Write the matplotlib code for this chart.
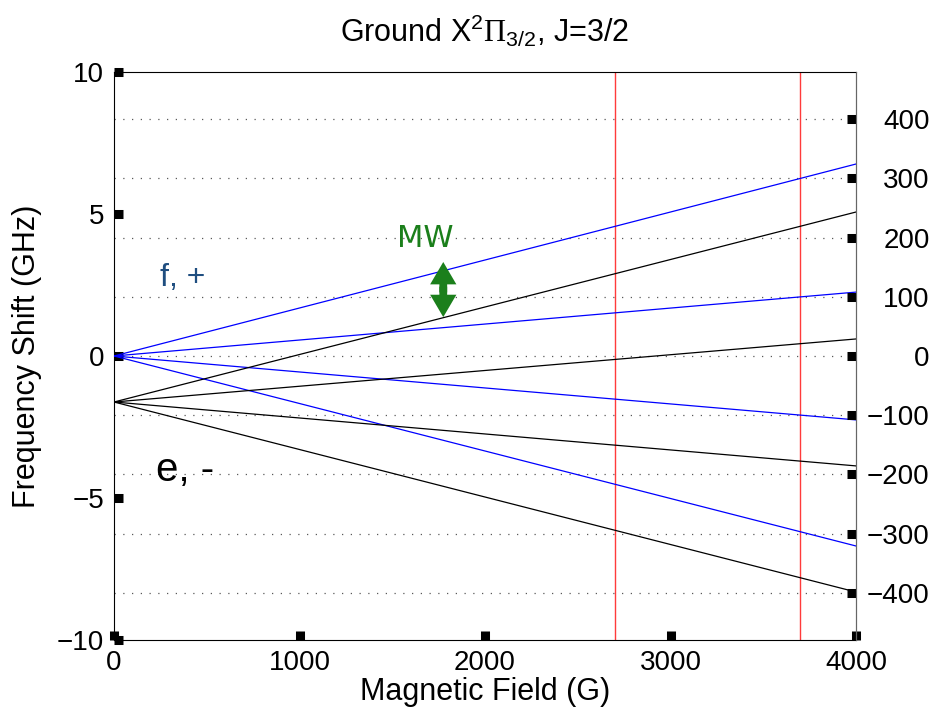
import numpy as np
import matplotlib
matplotlib.use("Agg")
import matplotlib.pyplot as plt
from matplotlib.patches import FancyArrowPatch

plt.rcParams['font.family'] = ['Liberation Sans', 'DejaVu Sans']
plt.rcParams['mathtext.fontset'] = 'custom'
plt.rcParams['mathtext.rm'] = 'Liberation Sans'
plt.rcParams['mathtext.sf'] = 'Liberation Serif'

# Magnetic field end points (G) and level shifts (GHz) at those fields
field = [0, 4000]
f_levels = [[0.0, 6.76], [0.0, 2.25], [0.0, -2.25], [0.0, -6.69]]
e_levels = [[-1.62, 5.07], [-1.62, 0.60], [-1.62, -3.87], [-1.62, -8.31]]

# field values marked by the red lines
markers_G = [2700, 3700]

# microwave transition arrow (G, GHz)
mw_field = 1775
mw_span = [1.37, 3.31]

# right-hand axis in mK (1 GHz ~ 48 mK)
mk_per_ghz = 47.99
mk_ticks = [-400, -300, -200, -100, 0, 100, 200, 300, 400]

fig = plt.figure(figsize=(9.32, 7.15), dpi=100)
ax = fig.add_axes([114/932, 1 - 640/715, 742/932, 568/715])

# dotted guide lines at the mK ticks
for mk in mk_ticks:
    ax.axhline(mk / mk_per_ghz, color='0.35', lw=0.9, ls=(0, (1, 6)), zorder=1)

for lvl in f_levels:
    ax.plot(field, lvl, color='#0000ff', lw=0.9, zorder=3)
for lvl in e_levels:
    ax.plot(field, lvl, color='black', lw=0.9, zorder=3)

for b in markers_G:
    ax.axvline(b, color='#ff3b3b', lw=1.0, zorder=2)

ax.set_xlim(0, 4000)
ax.set_ylim(-10, 10)
ax.set_xticks([0, 1000, 2000, 3000, 4000])
ax.set_yticks([-10, -5, 0, 5, 10])
ax.set_yticklabels(['\u221210', '\u22125', '0', '5', '10'])
ax.tick_params(direction='in', length=6.5, width=6.5, labelsize=20, pad=7,
               top=False, right=False)
ax.set_xlabel('Magnetic Field (G)', fontsize=22, labelpad=1)
ax.set_ylabel('Frequency Shift (GHz)', fontsize=22, labelpad=11)
ax.set_title(r'Ground X$^{2}\mathsf{\Pi}_{3/2}$, J=3/2', fontsize=22, pad=22)
ax.spines['right'].set_color('0.4')

# second scale on the right, in mK
ax2 = ax.twinx()
ax2.set_ylim(-10 * mk_per_ghz, 10 * mk_per_ghz)
ax2.set_yticks(mk_ticks)
ax2.set_yticklabels([('\u2212' if t < 0 else '') + str(abs(t)) for t in mk_ticks],
                    ha='right')
ax2.tick_params(direction='in', length=6.5, width=6.5, labelsize=20, pad=53)
for s in ['left', 'top', 'bottom']:
    ax2.spines[s].set_visible(False)
ax2.spines['right'].set_color('0.4')

# parity labels
ax.text(372, 2.75, 'f, +', color='#1f4e80', fontsize=23, ha='center', va='center')
ax.text(383, -4.0, 'e, -', color='black', fontsize=29, ha='center', va='center')

# microwave arrow: two filled halves pointing out from the middle
ax.text(1677, 4.15, 'MW', color='#1b7f1b', fontsize=22, ha='center', va='center',
        family='DejaVu Sans')
mw_mid = sum(mw_span) / 2
for end in mw_span:
    start = mw_mid + (0.1 if end < mw_mid else -0.1)
    ax.add_patch(FancyArrowPatch((mw_field, start), (mw_field, end),
                                 arrowstyle='simple,head_length=1.15,head_width=1.35,tail_width=0.4',
                                 mutation_scale=14, lw=0, shrinkA=0, shrinkB=0,
                                 color='#1b7f1b', zorder=5))

fig.savefig('out.png', dpi=100)
